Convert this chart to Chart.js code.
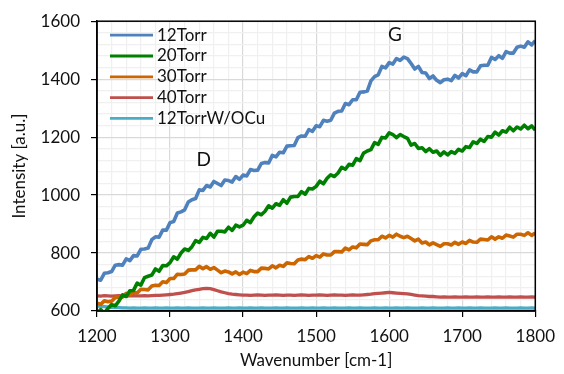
<!DOCTYPE html>
<html>
<head>
<meta charset="utf-8">
<script src="https://cdn.jsdelivr.net/npm/chart.js@4"></script>
<style>
  html, body { margin: 0; padding: 0; background: #fff; }
  #wrap { width: 564px; height: 374px; position: relative; }
</style>
</head>
<body>
<div id="wrap"><canvas id="c" width="564" height="374"></canvas></div>
<script>
const wavenumber = [
  1200,1205,1210,1215,1220,1225,1230,1235,1240,1245,1250,1255,1260,1265,1270,1275,1280,1285,1290,1295,
  1300,1305,1310,1315,1320,1325,1330,1335,1340,1345,1350,1355,1360,1365,1370,1375,1380,1385,1390,1395,
  1400,1405,1410,1415,1420,1425,1430,1435,1440,1445,1450,1455,1460,1465,1470,1475,1480,1485,1490,1495,
  1500,1505,1510,1515,1520,1525,1530,1535,1540,1545,1550,1555,1560,1565,1570,1575,1580,1585,1590,1595,
  1600,1605,1610,1615,1620,1625,1630,1635,1640,1645,1650,1655,1660,1665,1670,1675,1680,1685,1690,1695,
  1700,1705,1710,1715,1720,1725,1730,1735,1740,1745,1750,1755,1760,1765,1770,1775,1780,1785,1790,1795,
  1800
];
const torr12 = [
  710,706,730,732,736,758,760,758,780,774,791,790,813,814,817,846,856,855,879,879,
  905,909,938,942,949,976,984,988,1018,1016,1033,1028,1047,1040,1033,1052,1050,1045,1064,1054,
  1069,1066,1088,1085,1086,1109,1112,1111,1137,1132,1148,1146,1169,1170,1171,1198,1204,1203,1226,1220,
  1239,1236,1258,1255,1258,1283,1289,1290,1316,1312,1329,1329,1355,1356,1359,1394,1409,1415,1444,1439,
  1457,1452,1471,1465,1476,1471,1454,1435,1444,1423,1421,1402,1411,1396,1388,1398,1400,1395,1413,1404,
  1419,1412,1432,1425,1425,1446,1448,1448,1475,1468,1481,1472,1495,1490,1490,1510,1514,1510,1529,1518,
  1533
];
const torr20 = [
  592,605,593,609,622,618,634,656,650,670,671,696,689,715,720,724,745,737,757,756,
  767,787,779,800,814,809,822,843,837,854,850,868,855,875,875,873,889,878,896,890,
  896,913,905,925,938,932,944,963,955,970,965,984,972,993,995,995,1012,1003,1023,1021,
  1030,1048,1039,1058,1070,1064,1076,1096,1089,1106,1103,1126,1119,1145,1152,1157,1181,1175,1199,1197,
  1215,1209,1198,1209,1202,1196,1172,1178,1161,1163,1150,1160,1148,1152,1137,1149,1139,1150,1144,1158,
  1152,1167,1164,1184,1178,1193,1185,1202,1200,1217,1207,1222,1217,1234,1222,1235,1228,1241,1229,1239,
  1224
];
const torr30 = [
  627,623,635,632,634,647,648,648,661,655,665,662,675,674,673,686,689,688,701,698,
  712,712,727,726,728,741,742,742,754,746,753,744,750,741,732,738,735,728,735,726,
  734,729,740,736,736,748,747,745,756,749,758,754,766,764,763,776,779,777,788,782,
  791,786,797,793,793,805,805,804,817,811,821,818,831,830,829,842,846,846,858,852,
  861,855,865,858,853,858,850,842,848,835,838,828,835,829,823,832,832,828,837,830,
  838,833,844,838,837,848,847,845,856,848,856,851,862,859,855,865,865,861,870,861,
  869
];
const torr40 = [
  652,651,653,652,651,652,653,652,651,652,653,652,652,653,652,653,654,654,655,656,
  657,658,660,662,664,667,670,673,675,677,678,677,674,670,666,663,660,658,657,656,
  655,655,654,655,656,655,654,655,655,656,655,654,655,655,654,655,656,655,654,655,
  655,656,655,654,655,656,655,655,654,655,656,655,655,656,657,658,660,661,662,663,
  664,663,662,661,660,659,657,655,653,652,651,650,650,649,648,649,648,648,649,648,
  648,649,648,648,649,648,648,649,648,648,649,648,648,649,648,648,649,648,648,649,
  648
];
const torr12NoCu = [
  617,616,615,614,613,612,612,611,611,610,611,610,610,611,610,610,611,610,610,611,
  610,610,611,610,610,611,610,610,610,611,610,610,611,610,610,610,611,610,610,611,
  610,610,611,610,610,611,610,610,610,611,610,610,611,610,610,610,611,610,610,611,
  610,610,611,610,610,611,610,610,610,611,610,610,611,610,610,610,611,610,610,611,
  610,610,611,610,610,611,610,610,610,611,610,610,611,610,610,610,611,610,610,611,
  610,610,611,610,610,611,610,610,610,611,610,610,611,610,610,610,611,610,610,611,
  610
];
const seriesLabels = ['12Torr', '20Torr', '30Torr', '40Torr', '12TorrW/OCu'];
const seriesColors = ['#4F81BD', '#008000', '#CC6600', '#C0504D', '#4BACC6'];
const seriesValues = [torr12, torr20, torr30, torr40, torr12NoCu];
const xTickLabels = [1200, 1300, 1400, 1500, 1600, 1700, 1800];
const yTickLabels = [600, 800, 1000, 1200, 1400, 1600];
const peakLabels = [
  { text: 'D', x: 1346, y: 1122 },
  { text: 'G', x: 1608, y: 1552 }
];

const FONT = 'Lato, "Open Sans", sans-serif';
const TXT = '#111';

const datasets = seriesValues.map((vals, i) => ({
  label: seriesLabels[i],
  data: wavenumber.map((w, k) => ({ x: w, y: vals[k] })),
  borderColor: seriesColors[i],
  backgroundColor: seriesColors[i],
  borderWidth: i < 3 ? 3.6 : 3.3,
  borderJoinStyle: 'round',
  pointRadius: 0,
  tension: 0,
  fill: false
}));

const frame = {
  id: 'frame',
  afterDatasetsDraw(chart) {
    const a = chart.chartArea;
    const ctx = chart.ctx;
    ctx.save();
    ctx.strokeStyle = '#000';
    ctx.lineWidth = 1.5;
    ctx.strokeRect(a.left, a.top, a.right - a.left, a.bottom - a.top);
    // legend inside the plot
    ctx.font = '17px ' + FONT;
    ctx.textBaseline = 'middle';
    ctx.textAlign = 'left';
    chart.data.datasets.forEach((ds, i) => {
      const y = a.top + 14 + i * 20.8;
      ctx.strokeStyle = ds.borderColor;
      ctx.lineWidth = 2.8;
      ctx.beginPath();
      ctx.moveTo(a.left + 13, y);
      ctx.lineTo(a.left + 56, y);
      ctx.stroke();
      ctx.fillStyle = TXT;
      ctx.fillText(ds.label, a.left + 60, y);
    });
    // peak labels
    const xs = chart.scales.x, ys = chart.scales.y;
    ctx.font = '19px ' + FONT;
    ctx.textAlign = 'center';
    peakLabels.forEach(p => {
      ctx.fillText(p.text, xs.getPixelForValue(p.x), ys.getPixelForValue(p.y));
    });
    ctx.restore();
  }
};

new Chart(document.getElementById('c'), {
  type: 'line',
  data: { datasets },
  plugins: [frame],
  options: {
    responsive: false,
    animation: false,
    devicePixelRatio: 1,
    layout: { padding: { top: 18, right: 26, left: 0, bottom: 0 } },
    plugins: { legend: { display: false }, tooltip: { enabled: false } },
    scales: {
      x: {
        type: 'linear',
        min: 1200, max: 1800,
        afterFit(s) { s.height = 63; },
        ticks: {
          stepSize: 20, autoSkip: false, maxRotation: 0, padding: 9,
          color: TXT, font: { family: FONT, size: 17 },
          callback: v => xTickLabels.includes(v) ? String(v) : ''
        },
        grid: {
          color: c => (c.tick && xTickLabels.includes(c.tick.value)) ? '#d9d9d9' : '#f0f0f0',
          tickColor: c => (c.tick && xTickLabels.includes(c.tick.value)) ? '#000' : 'rgba(0,0,0,0)',
          lineWidth: 1.2, tickLength: 6
        },
        border: { color: '#000', width: 1.5 },
        title: {
          display: true, text: 'Wavenumber [cm-1]', color: TXT,
          font: { family: FONT, size: 17 }, padding: { top: 0, bottom: 3 }
        }
      },
      y: {
        type: 'linear',
        min: 600, max: 1600,
        afterFit(s) { s.width = 97; },
        ticks: {
          stepSize: 40, autoSkip: false, padding: 11,
          color: TXT, font: { family: FONT, size: 17 },
          callback: v => yTickLabels.includes(v) ? String(v) : ''
        },
        grid: {
          color: c => (c.tick && yTickLabels.includes(c.tick.value)) ? '#d9d9d9' : '#f0f0f0',
          tickColor: c => (c.tick && yTickLabels.includes(c.tick.value)) ? '#000' : 'rgba(0,0,0,0)',
          lineWidth: 1.2, tickLength: 6
        },
        border: { color: '#000', width: 1.5 },
        title: {
          display: true, text: 'Intensity [a.u.]', color: TXT,
          font: { family: FONT, size: 17 }, padding: { top: 9, bottom: 0 }
        }
      }
    }
  }
});
</script>
</body>
</html>
